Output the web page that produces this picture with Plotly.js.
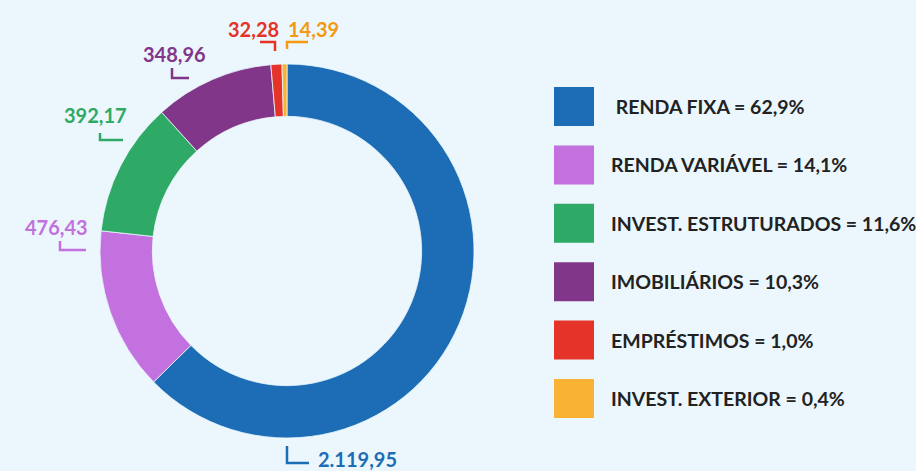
<!DOCTYPE html>
<html><head><meta charset="utf-8">
<script src="https://cdn.plot.ly/plotly-3.0.1.min.js"></script>
<style>html,body{margin:0;padding:0;background:#ebf7fd;}#c{width:916px;height:471px;}</style>
</head><body><div id="c"></div>
<script>
// ---- data ----
const categories = ['RENDA FIXA', 'RENDA VARIÁVEL', 'INVEST. ESTRUTURADOS', 'IMOBILIÁRIOS', 'EMPRÉSTIMOS', 'INVEST. EXTERIOR'];
const values = [2119.95, 476.43, 392.17, 348.96, 32.28, 14.39];
const percents = [62.9, 14.1, 11.6, 10.3, 1.0, 0.4];
const legendPrefix = [' ', '', '', '', '', ''];

// ---- style ----
const colors = ['#1c6db5', '#c371df', '#2eaa66', '#82368a', '#e5332a', '#f9b233'];
const labelColors = ['#1c6db5', '#c371df', '#2eaa66', '#82368a', '#e5332a', '#f39a10'];
const W = 916, H = 471;
const px = x => x / W, py = y => 1 - y / H;

// label placement (pixels): text left/center, bracket path
const labelPos = [
  {tx: 316, ty: 459, br: [[287,446],[287,463],[309,463]]},
  {tx: 23,  ty: 227, br: [[60,241],[60,250],[86,250]]},
  {tx: 62,  ty: 115, br: [[100,133],[100,140],[123,140]]},
  {tx: 141, ty: 54,  br: [[172,68],[172,78],[189,78]]},
  {tx: 226, ty: 29,  br: [[260,42],[275,42],[275,51]]},
  {tx: 286, ty: 29,  br: [[287,49],[287,42],[308,42]]}
];

function fmt(v) {
  const parts = v.toFixed(2).split('.');
  parts[0] = parts[0].replace(/\B(?=(\d{3})+(?!\d))/g, '.');
  return parts.join(',');
}
function fmtPct(p) { return p.toFixed(1).replace('.', ',') + '%'; }

const annotations = [], shapes = [];
values.forEach((v, i) => {
  const L = labelPos[i];
  annotations.push({xref:'paper', yref:'paper', x: px(L.tx), y: py(L.ty), xanchor:'left', yanchor:'middle',
    text: fmt(v), showarrow:false, font:{family:'Lato, sans-serif', size:20, color: labelColors[i], weight: 700}});
  const path = 'M' + L.br.map(p => px(p[0]) + ',' + py(p[1])).join(' L');
  shapes.push({type:'path', xref:'paper', yref:'paper', path: path, line:{color: labelColors[i], width:2.5}});
});

// legend
const legTop = 87, legStep = 58.4, sq = 39;
categories.forEach((c, i) => {
  const y0 = legTop + i * legStep;
  shapes.push({type:'rect', xref:'paper', yref:'paper', x0: px(554), x1: px(594), y0: py(y0), y1: py(y0 + sq),
    fillcolor: colors[i], line:{width:0}});
  annotations.push({xref:'paper', yref:'paper', x: px(609), y: py(y0 + sq/2), xanchor:'left', yanchor:'middle',
    text: legendPrefix[i] + c + ' = ' + fmtPct(percents[i]), showarrow:false,
    font:{family:'Lato, sans-serif', size:19.5, color:'#222222', weight:700}});
});

const cx = 287, cy = 251, R = 187;
const data = [{
  type:'pie', labels: categories, values: values, hole: 0.72, sort:false, direction:'clockwise', rotation:0,
  marker:{colors: colors, line:{color:'#ebf7fd', width:0.8}}, textinfo:'none', hoverinfo:'none',
  domain:{x:[px(cx - R), px(cx + R)], y:[py(cy + R), py(cy - R)]}, showlegend:false
}];
const layout = {width: W, height: H, margin:{l:0, r:0, t:0, b:0}, paper_bgcolor:'#ebf7fd', plot_bgcolor:'#ebf7fd',
  showlegend:false, annotations: annotations, shapes: shapes};
Plotly.newPlot('c', data, layout, {displayModeBar:false, staticPlot:true});
</script></body></html>
